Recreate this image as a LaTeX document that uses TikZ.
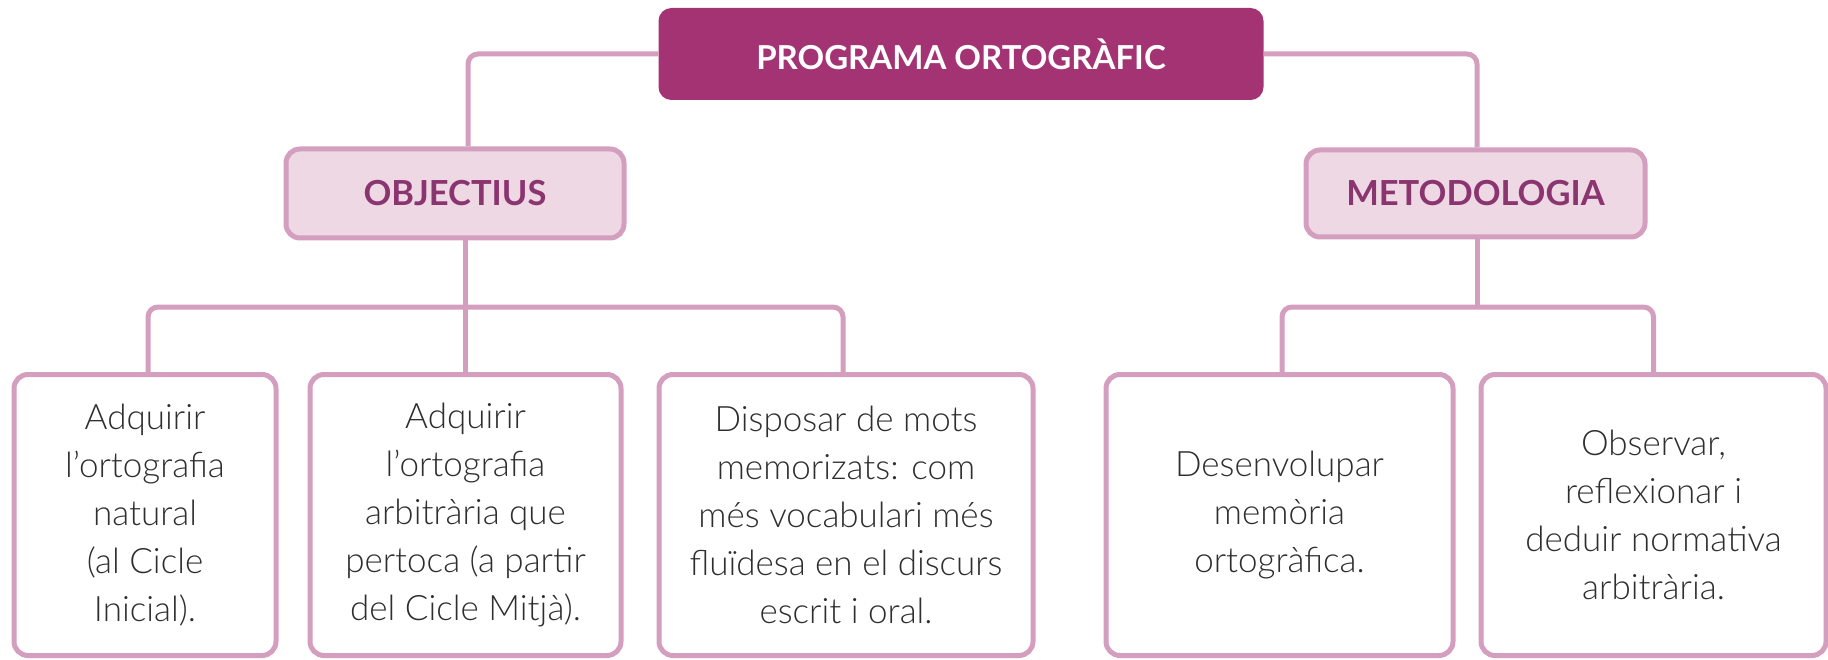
\documentclass[tikz,border=0pt]{standalone}
\usepackage{fontspec}
\setmainfont{Lato}
\newfontfamily\lightfont{Lato Light}
\definecolor{titlefill}{HTML}{A33373}
\definecolor{headfill}{HTML}{EDD8E4}
\definecolor{linec}{HTML}{D49EBF}
\definecolor{headtext}{HTML}{8B3570}
\definecolor{bodytext}{HTML}{2E2E2E}
\begin{document}
\begin{tikzpicture}[x=1pt,y=-1pt,
  conn/.style={draw=linec,line width=5pt,rounded corners=10pt},
  titlebox/.style={rectangle,rounded corners=12pt,fill=titlefill,draw=titlefill,line width=2pt,
    text=white,font=\fontsize{33}{38}\selectfont\bfseries,inner sep=0pt},
  headbox/.style={rectangle,rounded corners=14pt,fill=headfill,draw=linec,line width=5pt,
    text=headtext,font=\fontsize{34.5}{40}\selectfont\bfseries,inner sep=0pt},
  leafbox/.style={rectangle,rounded corners=14pt,fill=white,draw=linec,line width=5pt,
    text=bodytext,font=\fontsize{35}{48}\selectfont\lightfont,align=center,inner sep=0pt,
    minimum height=281pt}
]
\useasboundingbox (0,0) rectangle (1828,660);
% nodes
\node[titlebox,minimum width=603pt,minimum height=90pt] (top) at (961,54) {PROGRAMA ORTOGRÀFIC};
\node[headbox,minimum width=338pt,minimum height=89pt] (obj) at (455,193.5) {OBJECTIUS};
\node[headbox,minimum width=339pt,minimum height=87pt] (met) at (1475.5,193.5) {METODOLOGIA};

\node[leafbox,minimum width=262pt] (b1) at (145,515) {Adquirir\\l’ortografia\\natural\\(al Cicle\\Inicial).};
\node[leafbox,minimum width=311pt] (b2) at (465.5,515) {Adquirir\\l’ortografia\\arbitrària que\\pertoca (a partir\\del Cicle Mitjà).};
\node[leafbox,minimum width=374pt] (b3) at (846,515) {Disposar de mots\\memorizats: com\\més vocabulari més\\fluïdesa en el discurs\\escrit i oral.};
\node[leafbox,minimum width=347pt] (b4) at (1279.5,515) {Desenvolupar\\memòria\\ortogràfica.};
\node[leafbox,minimum width=345pt] (b5) at (1653.5,515) {Observar,\\reflexionar i\\deduir normativa\\arbitrària.};

\coordinate (objbar) at (465.5,307);
\coordinate (metbar) at (1477,307);

% connectors
\path[conn] (top.west) -| ([xshift=13pt]obj.north);
\path[conn] (top.east) -| ([xshift=1.5pt]met.north);
\path[conn] ([xshift=10.5pt]obj.south) -- (objbar);
\path[conn] ([xshift=3pt]b1.north) |- (objbar) -| ([xshift=-3pt]b3.north);
\path[conn] (objbar) -- (b2.north);
\path[conn] ([xshift=1.5pt]met.south) -- (metbar);
\path[conn] ([xshift=2.5pt]b4.north) |- (metbar) -| (b5.north);
\end{tikzpicture}
\end{document}
